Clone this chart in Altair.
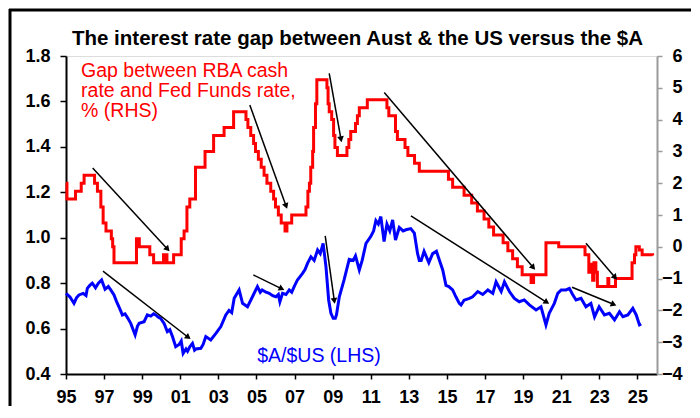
import math
import altair as alt
import pandas as pd

TITLE = "The interest rate gap between Aust & the US versus the $A"
GAP_LABEL = ["Gap between RBA cash", "rate and Fed Funds rate,", "% (RHS)"]
AUD_LABEL = "$A/$US (LHS)"

# Gap between RBA cash rate and Fed Funds rate, % (RHS) - step changes
gap_years = [1995.0, 1995.05, 1995.5, 1995.8, 1995.95, 1996.5, 1996.65, 1996.83, 1996.95, 1997.1,
             1997.38, 1997.45, 1997.52, 1998.7, 1998.85, 1999.4, 1999.6, 2000.12, 2000.18, 2000.24,
             2000.3, 2000.65, 2001.05, 2001.2, 2001.35, 2001.5, 2001.8, 2002.3, 2002.75, 2003.3,
             2003.8, 2004.45, 2004.55, 2004.7, 2004.85, 2004.95, 2005.1, 2005.25, 2005.4, 2005.55,
             2005.75, 2005.9, 2006.0, 2006.15, 2006.3, 2006.5, 2006.6, 2006.85, 2007.6, 2007.7,
             2007.78, 2007.85, 2007.95, 2008.0, 2008.1, 2008.17, 2008.7, 2008.76, 2008.82, 2008.95,
             2009.05, 2009.12, 2009.25, 2009.75, 2009.85, 2009.95, 2010.2, 2010.3, 2010.4, 2010.82,
             2011.85, 2011.95, 2012.3, 2012.4, 2012.8, 2012.95, 2013.3, 2013.55, 2015.08, 2015.3,
             2015.9, 2016.3, 2016.6, 2016.95, 2017.2, 2017.45, 2017.95, 2018.2, 2018.45, 2018.7,
             2018.95, 2019.42, 2019.55, 2020.2, 2020.87, 2022.25, 2022.45, 2022.55, 2022.65, 2022.72,
             2022.82, 2022.9, 2023.45, 2023.5, 2023.85, 2024.72, 2024.85, 2024.92, 2025.1, 2025.25,
             2025.8]
gap_values = [2.0, 1.5, 1.75, 2.0, 2.25, 2.0, 1.75, 1.25, 0.75, 0.5,
              0.25, 0.0, -0.5, 0.25, 0.0, -0.25, -0.5, -0.25, -0.5, -0.25,
              -0.5, -0.25, 0.25, 0.5, 1.25, 1.5, 2.5, 3.0, 3.5, 3.75,
              4.25, 4.0, 3.75, 3.5, 3.25, 3.0, 2.75, 2.5, 2.25, 2.0,
              1.75, 1.5, 1.25, 1.0, 0.75, 0.5, 0.75, 1.0, 1.25, 1.75,
              2.0, 2.5, 3.0, 3.75, 4.5, 5.25, 5.0, 4.5, 4.25, 4.0,
              3.5, 3.125, 2.875, 3.125, 3.375, 3.625, 3.875, 4.125, 4.375, 4.625,
              4.375, 4.125, 3.625, 3.375, 3.125, 2.875, 2.625, 2.375, 2.125, 1.875,
              1.625, 1.375, 1.125, 0.875, 0.625, 0.375, 0.125, -0.125, -0.375, -0.625,
              -0.875, -1.125, -0.875, 0.125, 0.0, -0.25, -0.8, -0.55, -1.05, -0.5,
              -0.8, -1.25, -1.0, -1.25, -1.0, -0.5, -0.25, 0.0, -0.1, -0.25,
              -0.27]

# $A/$US (LHS)
aud_years = [1995.0, 1995.2, 1995.42, 1995.55, 1995.68, 1995.9, 1996.05, 1996.12, 1996.25, 1996.38,
             1996.55, 1996.7, 1996.87, 1997.05, 1997.22, 1997.35, 1997.52, 1997.65, 1997.78, 1997.96,
             1998.1, 1998.25, 1998.4, 1998.63, 1998.75, 1998.84, 1999.1, 1999.27, 1999.45, 1999.6,
             1999.71, 1999.85, 1999.97, 2000.15, 2000.32, 2000.45, 2000.59, 2000.76, 2000.94, 2001.05,
             2001.15, 2001.3, 2001.38, 2001.5, 2001.64, 2001.75, 2001.82, 2002.08, 2002.2, 2002.34,
             2002.6, 2002.87, 2003.13, 2003.39, 2003.56, 2003.7, 2003.83, 2004.09, 2004.27, 2004.53,
             2004.79, 2005.05, 2005.2, 2005.3, 2005.5, 2005.67, 2005.85, 2006.02, 2006.15, 2006.23,
             2006.37, 2006.55, 2006.72, 2006.85, 2006.98, 2007.15, 2007.3, 2007.42, 2007.55, 2007.68,
             2007.86, 2008.03, 2008.21, 2008.35, 2008.5, 2008.65, 2008.79, 2008.91, 2009.03, 2009.14,
             2009.2, 2009.35, 2009.6, 2009.87, 2010.08, 2010.2, 2010.4, 2010.55, 2010.75, 2011.0,
             2011.15, 2011.27, 2011.4, 2011.53, 2011.7, 2011.85, 2012.0, 2012.15, 2012.3, 2012.5,
             2012.7, 2012.85, 2013.1, 2013.29, 2013.46, 2013.55, 2013.65, 2013.8, 2014.05, 2014.25,
             2014.45, 2014.65, 2014.78, 2014.95, 2015.1, 2015.3, 2015.47, 2015.65, 2015.74, 2015.9,
             2016.18, 2016.35, 2016.62, 2016.88, 2017.15, 2017.41, 2017.58, 2017.85, 2018.02, 2018.28,
             2018.54, 2018.8, 2019.06, 2019.33, 2019.68, 2019.94, 2020.2, 2020.37, 2020.64, 2020.82,
             2021.0, 2021.25, 2021.43, 2021.6, 2021.78, 2022.04, 2022.3, 2022.56, 2022.75, 2022.99,
             2023.27, 2023.53, 2023.8, 2024.06, 2024.24, 2024.5, 2024.76, 2024.94, 2025.11, 2025.2]
aud_values = [0.755, 0.74, 0.711, 0.735, 0.748, 0.755, 0.745, 0.777, 0.79, 0.80,
              0.78, 0.80, 0.814, 0.773, 0.785, 0.77, 0.748, 0.72, 0.696, 0.66,
              0.665, 0.645, 0.623, 0.572, 0.61, 0.623, 0.63, 0.66, 0.655, 0.665,
              0.66, 0.65, 0.645, 0.623, 0.587, 0.595, 0.565, 0.52, 0.53, 0.545,
              0.491, 0.51, 0.50, 0.52, 0.535, 0.505, 0.51, 0.513, 0.53, 0.565,
              0.55, 0.579, 0.609, 0.66, 0.68, 0.67, 0.733, 0.77, 0.711, 0.696,
              0.74, 0.785, 0.76, 0.77, 0.76, 0.755, 0.745, 0.74, 0.75, 0.718,
              0.755, 0.75, 0.77, 0.76, 0.785, 0.814, 0.83, 0.843, 0.86, 0.887,
              0.916, 0.90, 0.946, 0.93, 0.975, 0.872, 0.726, 0.667, 0.645, 0.645,
              0.66, 0.74, 0.814, 0.905, 0.90, 0.92, 0.858, 0.90, 0.975, 1.005,
              1.03, 1.075, 1.06, 1.093, 0.983, 1.06, 1.03, 1.078, 0.99, 1.045,
              1.03, 1.035, 1.04, 1.02, 0.93, 0.90, 0.90, 0.94, 0.89, 0.93,
              0.94, 0.89, 0.858, 0.79, 0.785, 0.77, 0.74, 0.711, 0.704, 0.725,
              0.733, 0.74, 0.763, 0.75, 0.77, 0.755, 0.806, 0.763, 0.806, 0.763,
              0.733, 0.718, 0.726, 0.704, 0.682, 0.696, 0.616, 0.667, 0.711, 0.755,
              0.77, 0.77, 0.777, 0.75, 0.726, 0.733, 0.696, 0.711, 0.652, 0.696,
              0.66, 0.667, 0.638, 0.674, 0.652, 0.66, 0.689, 0.66, 0.616, 0.62]

# Annotation arrows (start -> end), in data units
red_arrow_x0 = [1996.4, 2004.65, 2008.82, 2011.71, 2022.3]
red_arrow_y0 = [2.48, 4.46, 5.45, 4.85, 0.11]
red_arrow_x1 = [2000.3, 2006.54, 2009.43, 2019.5, 2023.8]
red_arrow_y1 = [-0.05, 1.31, 3.41, -0.63, -0.94]
blue_arrow_x0 = [1996.94, 2004.84, 2008.61, 2013.11, 2021.57]
blue_arrow_y0 = [0.853, 0.836, 1.008, 1.096, 0.782]
blue_arrow_x1 = [2001.38, 2006.28, 2009.08, 2020.2, 2023.71]
blue_arrow_y1 = [0.564, 0.777, 0.726, 0.718, 0.708]

x_ticks = list(range(1995, 2026, 2))
lhs_ticks = [0.4, 0.6, 0.8, 1.0, 1.2, 1.4, 1.6, 1.8]
rhs_ticks = list(range(-4, 7))

FONT = "Liberation Sans"
W, H = 591, 318
X_DOM = [1995, 2026.03]
LHS_DOM = [0.4, 1.8]
RHS_DOM = [-4, 6]
RED = "#ff0000"
BLUE = "#0000ff"
GREY = "#9a9a9a"

gap_df = pd.DataFrame({"year": gap_years, "val": gap_values})
aud_df = pd.DataFrame({"year": aud_years, "val": aud_values})


def arrow_frames(x0, y0, x1, y1, dom):
    pxx = W / (X_DOM[1] - X_DOM[0])
    pxy = H / (dom[1] - dom[0])
    lines, heads = [], []
    for i, (a, b, c, d) in enumerate(zip(x0, y0, x1, y1)):
        lines.append({"id": i, "o": 0, "year": a, "val": b})
        lines.append({"id": i, "o": 1, "year": c, "val": d})
        ang = math.degrees(math.atan2((c - a) * pxx, (d - b) * pxy)) % 360
        heads.append({"year": c, "val": d, "ang": ang})
    return pd.DataFrame(lines), pd.DataFrame(heads)


red_lines, red_heads = arrow_frames(red_arrow_x0, red_arrow_y0, red_arrow_x1, red_arrow_y1, RHS_DOM)
blue_lines, blue_heads = arrow_frames(blue_arrow_x0, blue_arrow_y0, blue_arrow_x1, blue_arrow_y1, LHS_DOM)

gap_text = pd.DataFrame({"year": [1995.79] * 3, "val": [5.34, 4.71, 4.08], "t": GAP_LABEL})
aud_text = pd.DataFrame({"year": [2005.04], "val": [0.453], "t": [AUD_LABEL]})

x_axis = alt.Axis(values=x_ticks, labelExpr="substring(toString(datum.value), 2, 4)", title=None,
                  grid=False, domainColor="black", domainWidth=2, tickColor="black", tickSize=5,
                  tickWidth=1.5, labelFont=FONT, labelFontSize=18, labelFontWeight="bold",
                  labelColor="black", labelPadding=9, labelFlush=False, labelOverlap=False)
X = alt.X("year:Q", scale=alt.Scale(domain=X_DOM, nice=False, zero=False), axis=x_axis)

lhs_scale = alt.Scale(domain=LHS_DOM, nice=False, zero=False)
rhs_scale = alt.Scale(domain=RHS_DOM, nice=False, zero=False)
lhs_axis = alt.Axis(orient="left", values=lhs_ticks, format=".1f", title=None, grid=False,
                    domainColor="black", domainWidth=2, tickColor="black", tickSize=6, tickWidth=1.5,
                    labelFont=FONT, labelFontSize=18, labelFontWeight="bold", labelColor="black",
                    labelPadding=10, labelOverlap=False)
rhs_axis = alt.Axis(orient="right", values=rhs_ticks, format="d", title=None, grid=False,
                    domainColor=GREY, domainWidth=2, tickColor=GREY, tickSize=5, tickWidth=1.5,
                    labelFont=FONT, labelFontSize=18, labelFontWeight="bold", labelColor="black",
                    labelPadding=20, labelAlign="right", labelOverlap=False)

Y_L = alt.Y("val:Q", scale=lhs_scale, axis=lhs_axis)
Y_R = alt.Y("val:Q", scale=rhs_scale, axis=rhs_axis)

# left (LHS) layer
aud_line = alt.Chart(aud_df).mark_line(color=BLUE, strokeWidth=3).encode(x=X, y=Y_L)
aud_arrows = alt.Chart(blue_lines).mark_line(color="black", strokeWidth=1.5).encode(
    x=X, y=Y_L, detail="id:N", order="o:Q")
aud_heads = alt.Chart(blue_heads).mark_point(shape="triangle", filled=True, color="black", size=45,
                                             opacity=1).encode(x=X, y=Y_L, angle=alt.Angle("ang:Q", scale=None))
aud_label = alt.Chart(aud_text).mark_text(align="left", baseline="alphabetic", font=FONT, fontSize=19.5,
                                          color=BLUE).encode(x=X, y=Y_L, text="t:N")
title_mark = alt.Chart(aud_text).mark_text(align="center", baseline="alphabetic", font=FONT, fontSize=20.5,
                                           fontWeight="bold", color="black", text=TITLE).encode(
    x=alt.value(W / 2 - 4), y=alt.value(-11))
frame_left = alt.Chart(aud_text).mark_rule(color="black", strokeWidth=3).encode(
    x=alt.value(-56), y=alt.value(-47), y2=alt.value(352))
frame_top = alt.Chart(aud_text).mark_rule(color="black", strokeWidth=3).encode(
    x=alt.value(-57), x2=alt.value(625), y=alt.value(-46))
left = alt.layer(aud_line, aud_arrows, aud_heads, aud_label, title_mark, frame_left, frame_top)

# right (RHS) layer
gap_line = alt.Chart(gap_df).mark_line(color=RED, strokeWidth=3, interpolate="step-after").encode(x=X, y=Y_R)
gap_arrows = alt.Chart(red_lines).mark_line(color="black", strokeWidth=1.5).encode(
    x=X, y=Y_R, detail="id:N", order="o:Q")
gap_heads = alt.Chart(red_heads).mark_point(shape="triangle", filled=True, color="black", size=45,
                                            opacity=1).encode(x=X, y=Y_R, angle=alt.Angle("ang:Q", scale=None))
gap_label = alt.Chart(gap_text).mark_text(align="left", baseline="alphabetic", font=FONT, fontSize=19.5,
                                          color=RED).encode(x=X, y=Y_R, text="t:N")
right = alt.layer(gap_line, gap_arrows, gap_heads, gap_label)

chart = alt.layer(left, right).resolve_scale(y="independent").properties(
    width=W, height=H,
    autosize=alt.AutoSizeParams(type="none"),
    padding={"left": 58, "top": 48, "right": 34, "bottom": 32},
).configure_view(stroke=GREY, strokeWidth=2).configure(background="white")

chart.save("out.html", embed_options={"renderer": "svg", "actions": False})
